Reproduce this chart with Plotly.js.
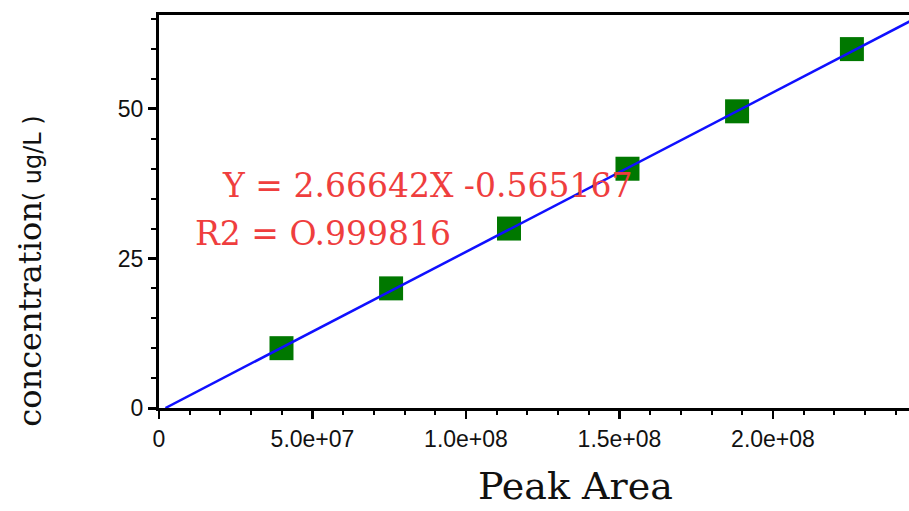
<!DOCTYPE html>
<html>
<head>
<meta charset="utf-8">
<script src="https://cdn.plot.ly/plotly-3.0.1.min.js"></script>
<style>html,body{margin:0;padding:0;background:#fff;}#chart{width:909px;height:511px;}</style>
</head>
<body>
<div id="chart"></div>
<script>
// Calibration points (peak area vs concentration, ug/L)
const peakArea = [3.99e7, 7.56e7, 1.140e8, 1.526e8, 1.883e8, 2.257e8];
const concentration = [10, 20, 30, 40, 49.6, 60];
// Fitted regression line, endpoints
const fitX = [2.1e6, 2.45e8];
const fitY = [0, 64.76];
// Tick labels
const xTickVals = [0, 5e7, 1e8, 1.5e8, 2e8];
const xTickText = ['0', '5.0e+07', '1.0e+08', '1.5e+08', '2.0e+08'];
const yTickVals = [0, 25, 50];
const yTickText = ['0', '25', '50'];
const eqText = 'Y = 2.66642X -0.565167';
const r2Text = 'R2 = O.999816';

const traces = [
  {x: peakArea, y: concentration, type: 'scatter', mode: 'markers',
   marker: {symbol: 'square', size: 24, color: '#007800'}, cliponaxis: false},
  {x: fitX, y: fitY, type: 'scatter', mode: 'lines',
   line: {color: '#1010ff', width: 2.5}}
];

const axisFont = {family: 'Liberation Sans, Arial, sans-serif', size: 23, color: '#111'};
const layout = {
  width: 909, height: 511,
  margin: {l: 159, r: 0, t: 15, b: 103, pad: 0},
  paper_bgcolor: '#fff', plot_bgcolor: '#fff',
  showlegend: false,
  xaxis: {
    range: [0, 2.443e8], showgrid: false, zeroline: false,
    showline: true, linecolor: '#000', linewidth: 3, mirror: true,
    tickmode: 'array', tickvals: xTickVals, ticktext: xTickText,
    ticks: 'outside', ticklen: 8, tickwidth: 2.5, tickcolor: '#000',
    tickfont: axisFont,
    minor: {dtick: 1e7, tick0: 0, ticks: 'outside', ticklen: 4, tickwidth: 2, tickcolor: '#000', showgrid: false}
  },
  yaxis: {
    range: [0, 65.7], showgrid: false, zeroline: false,
    showline: true, linecolor: '#000', linewidth: 3,
    tickmode: 'array', tickvals: yTickVals, ticktext: yTickText,
    ticks: 'outside', ticklen: 8, tickwidth: 3, tickcolor: '#000',
    tickfont: axisFont,
    minor: {dtick: 5, tick0: 0, ticks: 'outside', ticklen: 5, tickwidth: 2, tickcolor: '#000', showgrid: false}
  },
  annotations: [
    {text: eqText, xref: 'paper', yref: 'paper', x: 0.081, y: 0.565,
     xanchor: 'left', yanchor: 'middle', showarrow: false,
     font: {family: 'DejaVu Serif, serif', size: 33, color: '#ef3e3e'}},
    {text: r2Text, xref: 'paper', yref: 'paper', x: 0.045, y: 0.445,
     xanchor: 'left', yanchor: 'middle', showarrow: false,
     font: {family: 'DejaVu Serif, serif', size: 33, color: '#ef3e3e'}},
    {text: 'Peak Area', xref: 'paper', yref: 'paper', x: 0.555, y: -0.198,
     xanchor: 'center', yanchor: 'middle', showarrow: false, borderpad: 0,
     font: {family: 'DejaVu Serif, serif', size: 38, color: '#111'}},
    {text: 'concentration<span style="font-family:DejaVu Sans, sans-serif;font-size:24px">( ug/L )</span>',
     xref: 'paper', yref: 'paper', x: -0.172, y: 0.347, textangle: -90,
     xanchor: 'center', yanchor: 'middle', showarrow: false,
     font: {family: 'DejaVu Serif, serif', size: 32, color: '#111'}}
  ]
};

Plotly.newPlot('chart', traces, layout, {staticPlot: true, displayModeBar: false});
</script>
</body>
</html>
